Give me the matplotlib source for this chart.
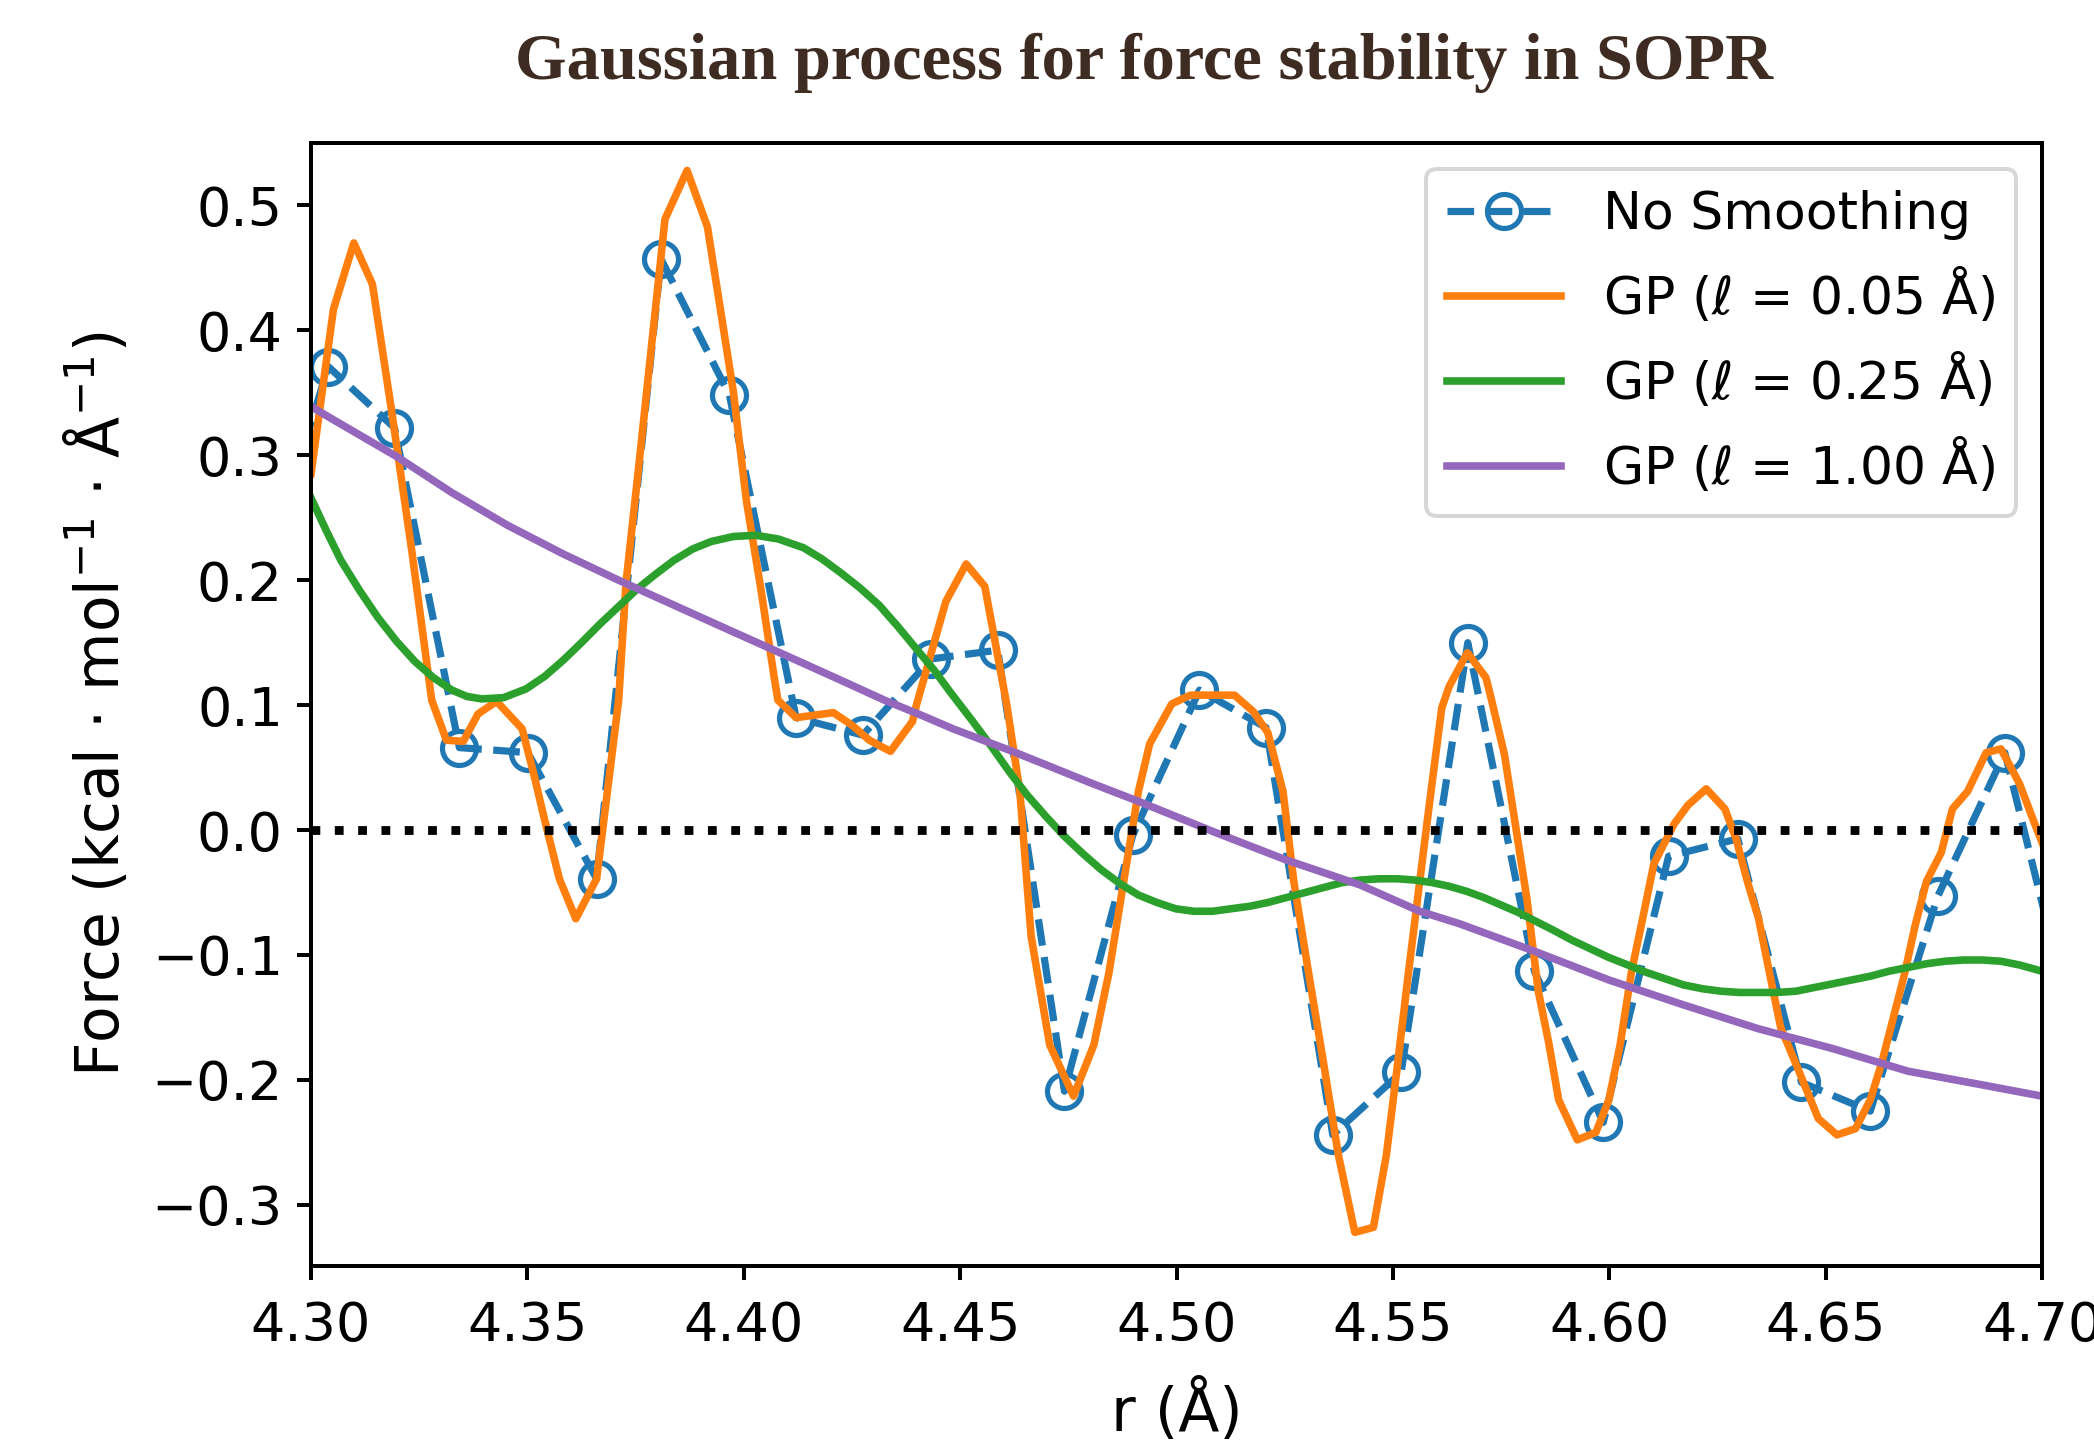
import matplotlib
matplotlib.use("Agg")
import matplotlib.pyplot as plt
from matplotlib.ticker import FormatStrFormatter

# raw force samples (no smoothing)
r_raw = [4.2880, 4.3040, 4.3193, 4.3343, 4.3501, 4.3660, 4.3809, 4.3967, 4.4121,
         4.4275, 4.4433, 4.4587, 4.4741, 4.4899, 4.5053, 4.5207, 4.5361, 4.5519,
         4.5673, 4.5827, 4.5986, 4.6137, 4.6297, 4.6444, 4.6603, 4.6759, 4.6914,
         4.7069]
f_raw = [0.190, 0.371, 0.322, 0.066, 0.062, -0.039, 0.457, 0.348, 0.090,
         0.076, 0.137, 0.144, -0.209, -0.004, 0.112, 0.082, -0.244, -0.194,
         0.150, -0.113, -0.234, -0.021, -0.007, -0.202, -0.225, -0.053, 0.062,
         -0.155]

# GP, l = 0.05 A
r_gp05 = [4.3000, 4.3052, 4.3099, 4.3142, 4.3187, 4.3232, 4.3279, 4.3313, 4.3352,
          4.3386, 4.3429, 4.3488, 4.3514, 4.3540, 4.3574, 4.3612, 4.3660, 4.3685,
          4.3711, 4.3728, 4.3758, 4.3788, 4.3818, 4.3869, 4.3916, 4.3946, 4.3976,
          4.4006, 4.4040, 4.4070, 4.4079, 4.4121, 4.4207, 4.4250, 4.4290, 4.4339,
          4.4390, 4.4399, 4.4467, 4.4514, 4.4557, 4.4608, 4.4638, 4.4664, 4.4707,
          4.4762, 4.4809, 4.4844, 4.4878, 4.4912, 4.4938, 4.4989, 4.5032, 4.5134,
          4.5177, 4.5211, 4.5246, 4.5271, 4.5305, 4.5340, 4.5374, 4.5412, 4.5455,
          4.5485, 4.5511, 4.5536, 4.5562, 4.5588, 4.5613, 4.5630, 4.5672, 4.5715,
          4.5728, 4.5758, 4.5784, 4.5810, 4.5836, 4.5861, 4.5883, 4.5926, 4.5969,
          4.5999, 4.6025, 4.6051, 4.6077, 4.6103, 4.6150, 4.6182, 4.6224, 4.6267,
          4.6293, 4.6319, 4.6345, 4.6370, 4.6396, 4.6431, 4.6483, 4.6526, 4.6569,
          4.6603, 4.6629, 4.6655, 4.6681, 4.6707, 4.6733, 4.6767, 4.6793, 4.6828,
          4.6871, 4.6905, 4.6948, 4.6983, 4.7000]
f_gp05 = [0.285, 0.417, 0.470, 0.437, 0.334, 0.226, 0.104, 0.072, 0.071,
          0.093, 0.103, 0.081, 0.046, 0.008, -0.039, -0.071, -0.039, 0.031,
          0.104, 0.198, 0.293, 0.391, 0.489, 0.528, 0.483, 0.417, 0.351,
          0.264, 0.192, 0.123, 0.104, 0.090, 0.094, 0.084, 0.072, 0.063,
          0.087, 0.100, 0.183, 0.213, 0.195, 0.100, 0.031, -0.085, -0.172,
          -0.213, -0.172, -0.114, -0.041, 0.031, 0.069, 0.101, 0.108, 0.108,
          0.095, 0.078, 0.031, -0.041, -0.114, -0.187, -0.260, -0.322, -0.318,
          -0.260, -0.187, -0.114, -0.041, 0.031, 0.098, 0.115, 0.142, 0.122,
          0.104, 0.060, 0.002, -0.056, -0.129, -0.172, -0.216, -0.248, -0.242,
          -0.216, -0.172, -0.114, -0.071, -0.027, 0.005, 0.020, 0.033, 0.017,
          -0.007, -0.041, -0.071, -0.114, -0.158, -0.187, -0.231, -0.244, -0.239,
          -0.216, -0.187, -0.152, -0.117, -0.076, -0.041, -0.018, 0.017, 0.031,
          0.062, 0.065, 0.037, 0.005, -0.010]

# GP, l = 0.25 A
r_gp25 = [4.3000, 4.3035, 4.3069, 4.3112, 4.3155, 4.3198, 4.3240, 4.3283, 4.3326,
          4.3360, 4.3394, 4.3445, 4.3497, 4.3540, 4.3583, 4.3625, 4.3668, 4.3711,
          4.3754, 4.3797, 4.3839, 4.3882, 4.3925, 4.3976, 4.4027, 4.4080, 4.4138,
          4.4181, 4.4224, 4.4268, 4.4313, 4.4356, 4.4399, 4.4440, 4.4476, 4.4527,
          4.4570, 4.4613, 4.4655, 4.4698, 4.4741, 4.4784, 4.4827, 4.4870, 4.4912,
          4.4955, 4.4998, 4.5040, 4.5083, 4.5126, 4.5169, 4.5211, 4.5254, 4.5297,
          4.5340, 4.5383, 4.5425, 4.5468, 4.5511, 4.5550, 4.5590, 4.5630, 4.5670,
          4.5710, 4.5750, 4.5790, 4.5830, 4.5870, 4.5913, 4.5956, 4.5999, 4.6043,
          4.6086, 4.6129, 4.6172, 4.6215, 4.6258, 4.6301, 4.6344, 4.6387, 4.6431,
          4.6474, 4.6517, 4.6560, 4.6603, 4.6646, 4.6690, 4.6733, 4.6776, 4.6819,
          4.6862, 4.6905, 4.6948, 4.7000]
f_gp25 = [0.266, 0.240, 0.216, 0.192, 0.170, 0.151, 0.135, 0.122, 0.112,
          0.107, 0.105, 0.106, 0.113, 0.123, 0.136, 0.150, 0.165, 0.179,
          0.193, 0.205, 0.216, 0.225, 0.231, 0.235, 0.236, 0.233, 0.226,
          0.217, 0.206, 0.194, 0.180, 0.163, 0.145, 0.128, 0.111, 0.088,
          0.068, 0.047, 0.028, 0.011, -0.005, -0.019, -0.032, -0.043, -0.052,
          -0.058, -0.063, -0.065, -0.065, -0.063, -0.061, -0.058, -0.054, -0.050,
          -0.046, -0.042, -0.040, -0.039, -0.039, -0.040, -0.042, -0.045, -0.049,
          -0.054, -0.060, -0.066, -0.073, -0.080, -0.088, -0.095, -0.102, -0.108,
          -0.114, -0.119, -0.124, -0.127, -0.129, -0.130, -0.130, -0.130, -0.129,
          -0.126, -0.123, -0.120, -0.117, -0.113, -0.110, -0.107, -0.105, -0.104,
          -0.104, -0.105, -0.108, -0.113]

# GP, l = 1.00 A
r_gp100 = [4.3000, 4.3069, 4.3198, 4.3326, 4.3454, 4.3583, 4.3711, 4.3839, 4.3967,
           4.4096, 4.4224, 4.4325, 4.4410, 4.4484, 4.4560, 4.4621, 4.4700, 4.4800,
           4.4912, 4.5083, 4.5254, 4.5425, 4.5562, 4.5654, 4.5827, 4.5999, 4.6172,
           4.6344, 4.6517, 4.6690, 4.6862, 4.7000]
f_gp100 = [0.339, 0.325, 0.299, 0.270, 0.244, 0.221, 0.200, 0.180, 0.160,
           0.140, 0.120, 0.104, 0.092, 0.081, 0.071, 0.063, 0.052, 0.038,
           0.023, -0.001, -0.024, -0.044, -0.065, -0.075, -0.097, -0.120, -0.140,
           -0.159, -0.175, -0.193, -0.204, -0.213]

labels = ["No Smoothing", r"GP ($\ell$ = 0.05 Å)", r"GP ($\ell$ = 0.25 Å)", r"GP ($\ell$ = 1.00 Å)"]

fig = plt.figure(figsize=(2094 / 288, 1440 / 288), dpi=288)
ax = fig.add_axes([0.1485, 0.1208, 0.8267, 0.7799])

ax.plot(r_raw, f_raw, "--o", color="#1f77b4", lw=1.8, ms=8.5, mew=1.3, mfc="none", label=labels[0])
ax.plot(r_gp05, f_gp05, color="#ff7f0e", lw=1.9, label=labels[1])
ax.plot(r_gp25, f_gp25, color="#2ca02c", lw=1.9, label=labels[2])
ax.plot(r_gp100, f_gp100, color="#9467bd", lw=1.9, label=labels[3])
ax.axhline(0, color="black", ls=":", lw=2.2)

ax.set_xlim(4.30, 4.70)
ax.set_ylim(-0.349, 0.55)
ax.set_xticks([4.30, 4.35, 4.40, 4.45, 4.50, 4.55, 4.60, 4.65, 4.70])
ax.set_yticks([-0.3, -0.2, -0.1, 0.0, 0.1, 0.2, 0.3, 0.4, 0.5])
ax.xaxis.set_major_formatter(FormatStrFormatter("%.2f"))
ax.yaxis.set_major_formatter(plt.FuncFormatter(lambda v, p: ("%.1f" % v).replace("-", "\u2212")))
ax.tick_params(labelsize=13.5, width=1.0)
ax.tick_params(axis="x", pad=5)
for s in ax.spines.values():
    s.set_linewidth(1.0)

ax.set_xlabel("r (Å)", fontsize=15, labelpad=7)
ax.set_ylabel(r"Force (kcal $\cdot$ mol$^{-1}$ $\cdot$ Å$^{-1}$)", fontsize=15, labelpad=5)
ax.legend(loc="upper right", fontsize=13, handlelength=2.2)

fig.text(0.5463, 0.956, "Gaussian process for force stability in SOPR", ha="center", va="center",
         fontsize=16.6, fontweight="bold", family="Liberation Serif", color="#3e2c23")

fig.savefig("out.png", dpi=288)
